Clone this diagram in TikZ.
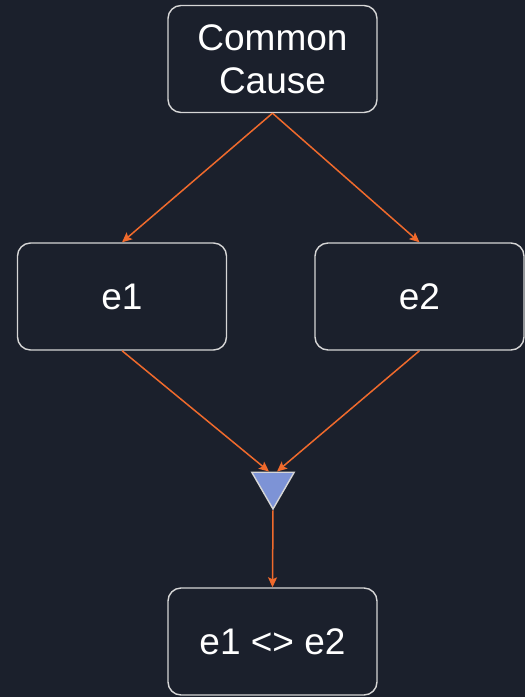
\documentclass[tikz,border=0pt]{standalone}
\usepackage{fontspec}
\setmainfont{Liberation Sans}
\usetikzlibrary{arrows.meta,shapes.geometric}

\definecolor{fondo}{HTML}{1B202C}
\definecolor{borde}{HTML}{D6D6D6}
\definecolor{naranja}{HTML}{F06A2C}
\definecolor{azul}{HTML}{7D93D6}

\begin{document}
\begin{tikzpicture}[x=1pt,y=-1pt,
    caja/.style={draw=borde,line width=1.4pt,fill=fondo,rounded corners=13pt,
      text=white,align=center,font=\fontsize{37}{43}\selectfont,
      minimum width=209pt,minimum height=107pt,inner sep=0pt},
    union/.style={draw=borde,line width=1.4pt,fill=azul,regular polygon,
      regular polygon sides=3,shape border rotate=180,minimum size=49pt,inner sep=0pt},
    flecha/.style={draw=naranja,line width=1.5pt,-{Stealth[length=10pt,width=9pt,inset=2pt]}}]
  % Fondo
  \fill[fondo] (0,0) rectangle (525,697);

  % Cajas
  \node[caja] (causa) at (272.5,59) {Common\\Cause};
  \node[caja] (e1)    at (122,296.5) {e1};
  \node[caja] (e2)    at (419.5,296.5) {e2};
  \node[union] (merge) at (273,484.5) {};
  \node[caja] (res)   at (272.5,641.5) {e1 <> e2};

  % Flechas
  \draw[flecha] (causa.south) -- (e1.north);
  \draw[flecha] (causa.south) -- (e2.north);
  \draw[flecha] (e1.south) -- ([xshift=-4pt]merge.north);
  \draw[flecha] (e2.south) -- ([xshift=4pt]merge.north);
  \draw[flecha] (merge.south) -- (res.north);
\end{tikzpicture}
\end{document}
